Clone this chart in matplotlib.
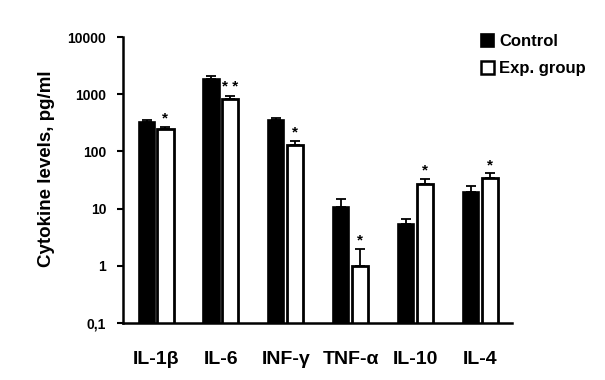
import numpy as np
import matplotlib
matplotlib.use('Agg')
import matplotlib.pyplot as plt
from matplotlib.patches import Patch

plt.rcParams['font.family'] = ['Liberation Sans', 'DejaVu Sans']
plt.rcParams['font.weight'] = 'bold'

cytokines = ['IL-1β', 'IL-6', 'INF-γ', 'TNF-α', 'IL-10', 'IL-4']
control = [323, 1820, 354, 10.8, 5.4, 19.5]
control_err = [35, 280, 30, 4.2, 1.3, 5.5]
exp_group = [246, 813, 129, 1.0, 26.6, 34.3]
exp_err = [24, 127, 23, 1.0, 6.3, 7.0]
signif = ['*', '* *', '*', '*', '*', '*']

x = np.arange(len(cytokines))
w = 0.25
off = 0.145

fig = plt.figure(figsize=(6.05, 3.8), dpi=100)
ax = fig.add_axes([0.2033, 0.15, 0.643, 0.7526])

ax.bar(x - off, control, w, color='black', edgecolor='black', linewidth=1.2,
       yerr=[np.zeros(len(x)), control_err], capsize=3.5,
       error_kw=dict(elinewidth=1.3, capthick=1.3, ecolor='black'), log=True)
ax.bar(x + off, exp_group, w, color='white', edgecolor='black', linewidth=2.0,
       yerr=[np.zeros(len(x)), exp_err], capsize=3.5,
       error_kw=dict(elinewidth=1.3, capthick=1.3, ecolor='black'), log=True)

for i in range(len(x)):
    top = exp_group[i] + exp_err[i]
    ax.annotate(signif[i], (x[i] + off, top), xytext=(0, 1), textcoords='offset points',
                ha='center', va='bottom', fontsize=11, fontweight='bold')

ax.set_yscale('log')
ax.set_ylim(0.1, 10000)
ax.set_xlim(-0.51, 5.49)
ax.set_yticks([0.1, 1, 10, 100, 1000, 10000])
ax.set_yticklabels(['0,1', '1', '10', '100', '1000', '10000'], fontsize=10, fontweight='bold')
ax.minorticks_off()
ax.set_xticks(x)
ax.set_xticklabels(cytokines, fontsize=14, fontweight='bold')
ax.tick_params(axis='x', length=0, pad=20)
ax.tick_params(axis='y', length=4, width=1.5, pad=8)
for s in ['top', 'right']:
    ax.spines[s].set_visible(False)
for s in ['left', 'bottom']:
    ax.spines[s].set_linewidth(1.8)

ax.set_ylabel('Cytokine levels, pg/ml', fontsize=13.5, fontweight='bold')
ax.yaxis.set_label_coords(-0.175, 0.538)

handles = [Patch(facecolor='black', edgecolor='black', linewidth=1.2, label='Control'),
           Patch(facecolor='white', edgecolor='black', linewidth=1.8, label='Exp. group')]
fig.legend(handles=handles, loc='upper left', bbox_to_anchor=(0.77, 0.95), frameon=False,
           handlelength=0.8, handleheight=0.8, handletextpad=0.3,
           labelspacing=0.7, prop={'weight': 'bold', 'size': 12})

fig.savefig('out.png', dpi=100)
